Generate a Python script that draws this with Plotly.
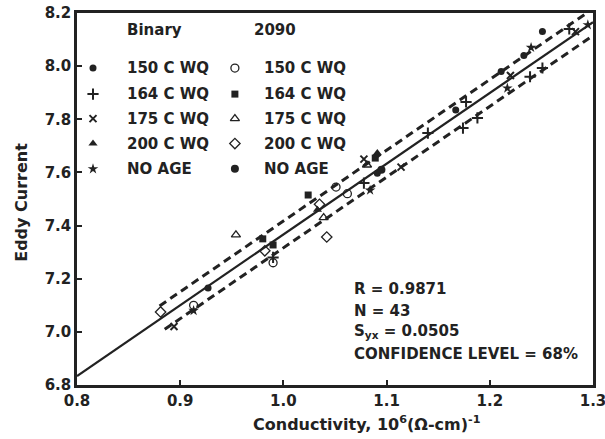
import plotly.graph_objects as go

# ---------------- data ----------------
b150_x = [0.927, 1.091, 1.167, 1.211, 1.233, 1.251]
b150_y = [7.165, 7.597, 7.835, 7.980, 8.040, 8.130]
b164_x = [0.990, 1.078, 1.140, 1.174, 1.188, 1.177, 1.239, 1.251, 1.277]
b164_y = [7.280, 7.560, 7.748, 7.767, 7.805, 7.865, 7.960, 7.993, 8.140]
b175_x = [0.894, 1.078, 1.114, 1.220, 1.283]
b175_y = [7.020, 7.650, 7.620, 7.965, 8.130]
b200_x = [1.033, 1.091]
b200_y = [7.460, 7.673]
bna_x = [0.913, 1.084, 1.217, 1.240, 1.295]
bna_y = [7.080, 7.533, 7.917, 8.070, 8.155]
a150_x = [0.913, 0.990, 1.051, 1.062]
a150_y = [7.100, 7.260, 7.545, 7.520]
a164_x = [0.980, 0.990, 1.024, 1.089]
a164_y = [7.350, 7.327, 7.515, 7.654]
a175_x = [0.954, 1.039, 1.081]
a175_y = [7.365, 7.430, 7.628]
a200_x = [0.881, 0.982, 1.035, 1.042]
a200_y = [7.075, 7.305, 7.480, 7.357]
ana_x = [1.095]
ana_y = [7.610]

fit_intercept_at_08 = 6.834
fit_slope = 2.663
band_offset = 0.0505
fit_x = [0.8, 1.3]
upper_x = [0.88, 1.292]
lower_x = [0.885, 1.30]

x_ticks = [0.8, 0.9, 1.0, 1.1, 1.2, 1.3]
x_tick_text = ["0.8", "0.9", "1.0", "1.1", "1.2", "1.3"]
y_ticks = [6.8, 7.0, 7.2, 7.4, 7.6, 7.8, 8.0, 8.2]
y_tick_text = ["6.8", "7.0", "7.2", "7.4", "7.6", "7.8", "8.0", "8.2"]

legend_binary = ["150 C WQ", "164 C WQ", "175 C WQ", "200 C WQ", "NO AGE"]
legend_2090 = ["150 C WQ", "164 C WQ", "175 C WQ", "200 C WQ", "NO AGE"]

stats_lines = ["R = 0.9871", "N = 43", "S<sub>yx</sub> = 0.0505", "CONFIDENCE LEVEL = 68%"]

x_title = "Conductivity, 10<sup>6</sup>(Ω-cm)<sup>-1</sup>"
y_title = "Eddy Current"

# ---------------- styles ----------------
INK = "#222222"
FONT = "DejaVu Sans"

def fline(x):
    return fit_intercept_at_08 + fit_slope * (x - 0.8)

binary_styles = [
    dict(symbol="circle", size=7, color=INK),
    dict(symbol="cross-thin", size=8, color=INK, line=dict(width=2, color=INK)),
    dict(symbol="x-thin", size=7, color=INK, line=dict(width=2, color=INK)),
    dict(symbol="triangle-up", size=8, color=INK),
    dict(symbol="star", size=8, color=INK),
]
a2090_styles = [
    dict(symbol="circle-open", size=8, color=INK, line=dict(width=1.3, color=INK)),
    dict(symbol="square", size=7, color=INK),
    dict(symbol="triangle-up-open", size=8, color=INK, line=dict(width=1.3, color=INK)),
    dict(symbol="diamond-open", size=8, color=INK, line=dict(width=1.3, color=INK)),
    dict(symbol="circle", size=8, color=INK),
]

fig = go.Figure()

fig.add_trace(go.Scatter(x=fit_x, y=[fline(v) for v in fit_x], mode="lines",
                         line=dict(color=INK, width=2.2), hoverinfo="skip"))
fig.add_trace(go.Scatter(x=upper_x, y=[fline(v) + band_offset for v in upper_x], mode="lines",
                         line=dict(color=INK, width=3, dash="8px,5px"), hoverinfo="skip"))
fig.add_trace(go.Scatter(x=lower_x, y=[fline(v) - band_offset for v in lower_x], mode="lines",
                         line=dict(color=INK, width=3, dash="8px,5px"), hoverinfo="skip"))

series = [
    (b150_x, b150_y, binary_styles[0]),
    (b164_x, b164_y, binary_styles[1]),
    (b175_x, b175_y, binary_styles[2]),
    (b200_x, b200_y, binary_styles[3]),
    (bna_x, bna_y, binary_styles[4]),
    (a150_x, a150_y, a2090_styles[0]),
    (a164_x, a164_y, a2090_styles[1]),
    (a175_x, a175_y, a2090_styles[2]),
    (a200_x, a200_y, a2090_styles[3]),
    (ana_x, ana_y, a2090_styles[4]),
]
for xs, ys, st in series:
    fig.add_trace(go.Scatter(x=xs, y=ys, mode="markers", marker=st, hoverinfo="skip"))

row_y = [0.852, 0.782, 0.716, 0.649, 0.581]
for i in range(5):
    fig.add_trace(go.Scatter(x=[0.031], y=[row_y[i]], mode="markers", marker=binary_styles[i],
                             xaxis="x2", yaxis="y2", hoverinfo="skip"))
    fig.add_trace(go.Scatter(x=[0.306], y=[row_y[i]], mode="markers", marker=a2090_styles[i],
                             xaxis="x2", yaxis="y2", hoverinfo="skip"))

annotations = []
annotations.append(dict(x=0.093, y=0.954, xref="paper", yref="paper", text="<b>Binary</b>",
                        showarrow=False, xanchor="left", yanchor="middle",
                        font=dict(family=FONT, size=15, color=INK)))
annotations.append(dict(x=0.339, y=0.954, xref="paper", yref="paper", text="<b>2090</b>",
                        showarrow=False, xanchor="left", yanchor="middle",
                        font=dict(family=FONT, size=15, color=INK)))
for i in range(5):
    annotations.append(dict(x=0.093, y=row_y[i], xref="paper", yref="paper",
                            text="<b>%s</b>" % legend_binary[i], showarrow=False,
                            xanchor="left", yanchor="middle",
                            font=dict(family=FONT, size=15, color=INK)))
    annotations.append(dict(x=0.359, y=row_y[i], xref="paper", yref="paper",
                            text="<b>%s</b>" % legend_2090[i], showarrow=False,
                            xanchor="left", yanchor="middle",
                            font=dict(family=FONT, size=15, color=INK)))
stats_y = [0.258, 0.198, 0.145, 0.084]
for t, yy in zip(stats_lines, stats_y):
    annotations.append(dict(x=0.533, y=yy, xref="paper", yref="paper", text="<b>%s</b>" % t,
                            showarrow=False, xanchor="left", yanchor="middle",
                            font=dict(family=FONT, size=15, color=INK)))
annotations.append(dict(x=0.562, y=-0.103, xref="paper", yref="paper", text="<b>%s</b>" % x_title,
                        showarrow=False, xanchor="center", yanchor="middle",
                        font=dict(family=FONT, size=16, color=INK)))
annotations.append(dict(x=-0.107, y=0.492, xref="paper", yref="paper", text="<b>%s</b>" % y_title,
                        showarrow=False, xanchor="center", yanchor="middle", textangle=-90,
                        font=dict(family=FONT, size=16, color=INK)))

fig.update_layout(
    width=605, height=439,
    margin=dict(l=77, r=12, t=13, b=54, autoexpand=False),
    paper_bgcolor="white", plot_bgcolor="white",
    showlegend=False,
    font=dict(family=FONT, color=INK, size=15),
    annotations=annotations,
    xaxis=dict(range=[0.8, 1.3], tickvals=x_ticks, ticktext=["<b>%s</b>" % t for t in x_tick_text],
               ticks="inside", ticklen=5, tickwidth=1.5, tickcolor=INK,
               showline=True, linecolor=INK, linewidth=2.5, mirror=True,
               showgrid=False, zeroline=False, automargin=False,
               ticklabeloverflow="allow",
               tickfont=dict(family=FONT, size=15, color=INK)),
    yaxis=dict(range=[6.8, 8.2], tickvals=y_ticks, ticktext=["<b>%s</b>" % t for t in y_tick_text],
               ticks="inside", ticklen=5, tickwidth=1.5, tickcolor=INK,
               showline=True, linecolor=INK, linewidth=2.5, mirror=True,
               showgrid=False, zeroline=False, automargin=False,
               ticklabeloverflow="allow",
               tickfont=dict(family=FONT, size=15, color=INK)),
    xaxis2=dict(range=[0, 1], overlaying="x", visible=False, fixedrange=True),
    yaxis2=dict(range=[0, 1], overlaying="y", visible=False, fixedrange=True),
)

fig.write_html("out.html")
